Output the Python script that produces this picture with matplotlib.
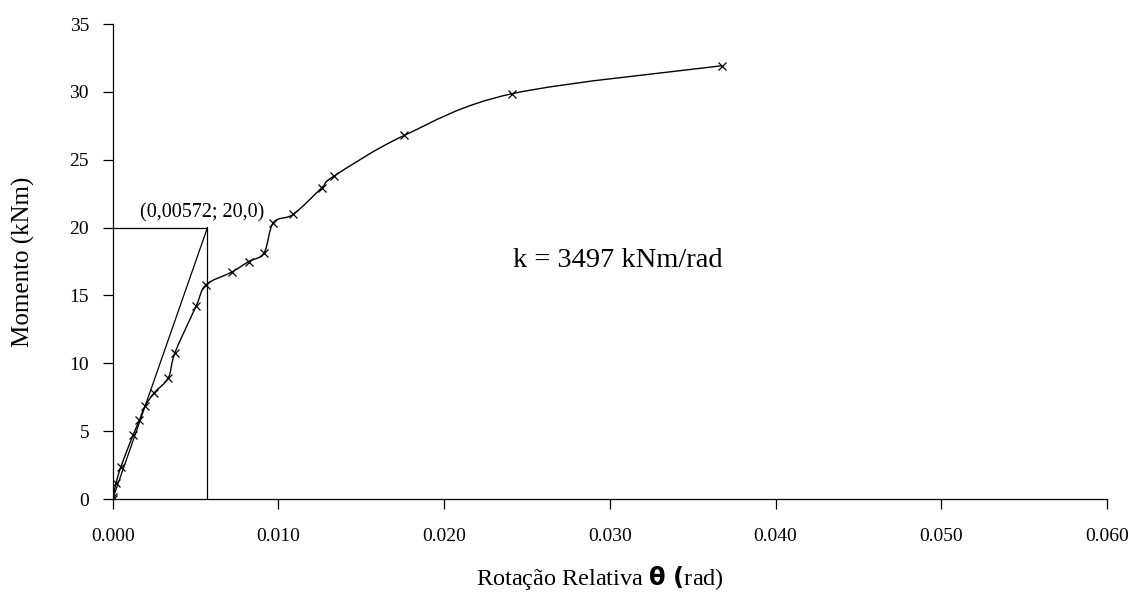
import numpy as np
import matplotlib
matplotlib.use("Agg")
import matplotlib.pyplot as plt
from matplotlib.path import Path
from matplotlib.patches import PathPatch

# Measured moment-rotation curve
theta = [0.0, 0.00003, 0.0002, 0.0005, 0.00124, 0.00161, 0.00195, 0.00251,
         0.00336, 0.00376, 0.00503, 0.00563, 0.00718, 0.00821, 0.00914,
         0.00970, 0.01091, 0.01262, 0.01336, 0.01759, 0.02411, 0.03678]
moment = [0.0, 0.17, 1.16, 2.39, 4.74, 5.80, 6.84, 7.83,
          8.94, 10.79, 14.2, 15.78, 16.72, 17.5, 18.15,
          20.37, 20.99, 22.94, 23.8, 26.79, 29.87, 31.93]

# Secant stiffness reference point
k_theta = 0.00572
k_moment = 20.0
k_value = 3497

x_ticks = [0.0, 0.01, 0.02, 0.03, 0.04, 0.05, 0.06]
y_ticks = [0, 5, 10, 15, 20, 25, 30, 35]

plt.rcParams["font.family"] = ["Liberation Serif", "DejaVu Serif"]
plt.rcParams["mathtext.fontset"] = "custom"
plt.rcParams["mathtext.bf"] = "DejaVu Sans:bold"
plt.rcParams["mathtext.rm"] = "Liberation Serif"

fig = plt.figure(figsize=(11.3, 5.92), dpi=100)
ax = fig.add_axes([0.0997, 0.157, 0.8800, 0.8024])


def smooth_path(xs, ys):
    """Cubic Bezier path through the points (Catmull-Rom control points)."""
    pts = np.column_stack([xs, ys])
    n = len(pts)
    verts = [pts[0]]
    codes = [Path.MOVETO]
    for i in range(n - 1):
        p0 = pts[i - 1] if i > 0 else pts[i]
        p1 = pts[i]
        p2 = pts[i + 1]
        p3 = pts[i + 2] if i + 2 < n else pts[i + 1]
        c1 = p1 + (p2 - p0) / 6.0
        c2 = p2 - (p3 - p1) / 6.0
        verts += [c1, c2, p2]
        codes += [Path.CURVE4] * 3
    return Path(verts, codes)


ax.add_patch(PathPatch(smooth_path(theta, moment), fill=False,
                       edgecolor="black", lw=1.0, zorder=3))
ax.plot(theta, moment, linestyle="none", marker="x", ms=6, mew=0.9,
        color="black", zorder=4)

# Secant stiffness construction lines
ax.plot([0, k_theta], [0, k_moment], color="black", lw=0.9)
ax.plot([0, k_theta, k_theta], [k_moment, k_moment, 0], color="black", lw=0.9)

ax.text(0.0054, 20.75, "(0,00572; 20,0)", ha="center", va="baseline",
        fontsize=14.5)
ax.text(0.0305, 17.6, f"k = {k_value} kNm/rad", ha="center", va="center",
        fontsize=20.5)

ax.set_xlim(0, 0.06)
ax.set_ylim(0, 35)
ax.set_xticks(x_ticks)
ax.set_xticklabels([f"{v:.3f}" for v in x_ticks])
ax.set_yticks(y_ticks)
ax.tick_params(axis="both", direction="out", length=7, width=0.9,
               labelsize=14, colors="black")
ax.tick_params(axis="x", pad=14)
ax.tick_params(axis="y", pad=10)
for side in ("top", "right"):
    ax.spines[side].set_visible(False)
for side in ("left", "bottom"):
    ax.spines[side].set_linewidth(0.9)

ax.set_xlabel(r"Rotação Relativa $\mathbf{\theta\ (}$rad)", fontsize=17.5,
              va="center")
ax.xaxis.set_label_coords(0.49, -0.166)
ax.set_ylabel("Momento (kNm)", fontsize=18, va="center")
ax.yaxis.set_label_coords(-0.090, 0.5)

fig.savefig("out.png", dpi=100)
